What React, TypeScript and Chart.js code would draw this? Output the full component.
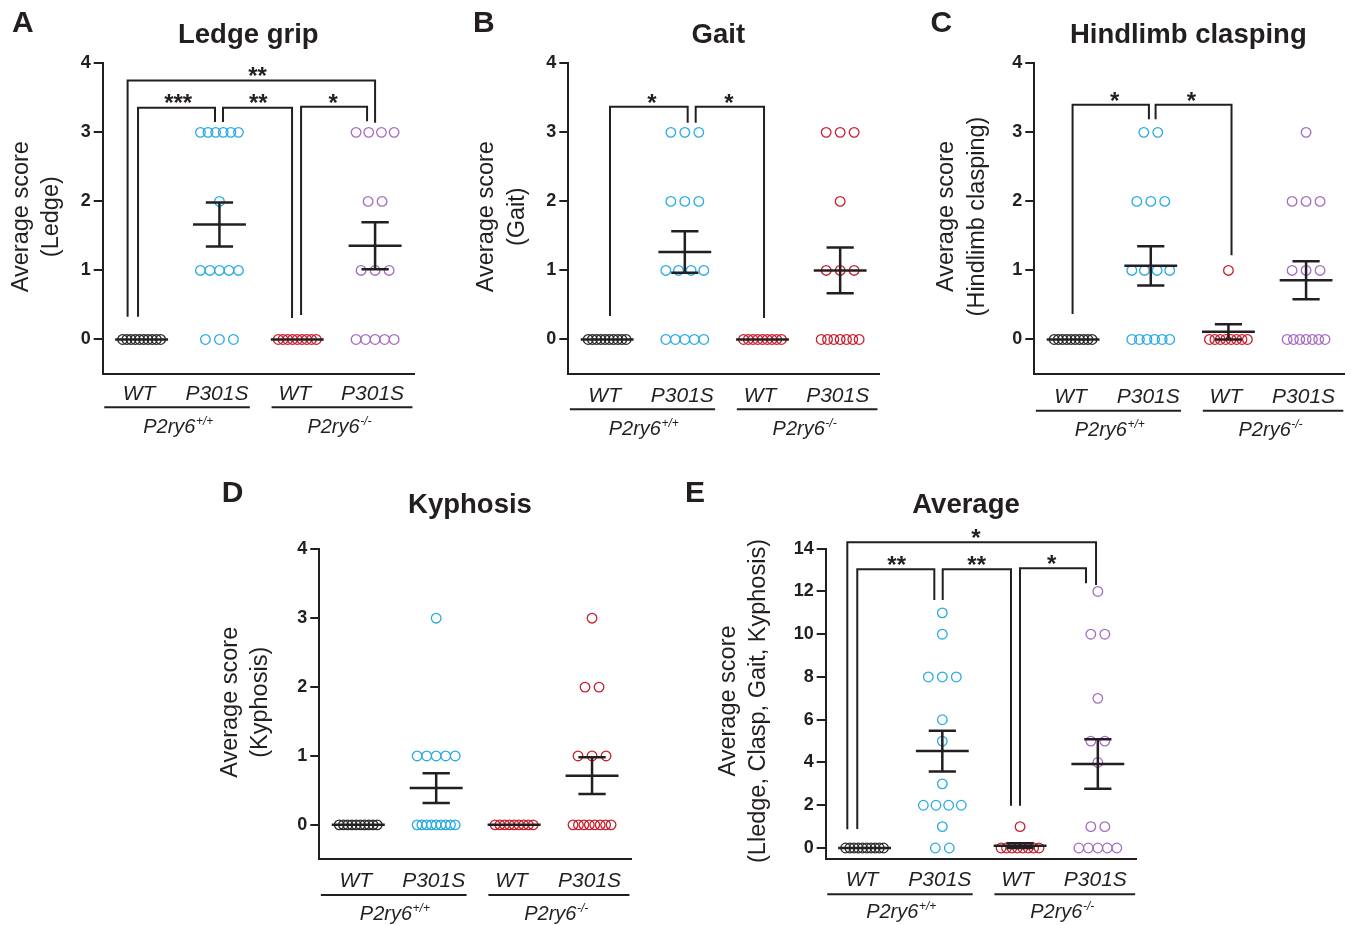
import React, { useEffect, useRef } from "react";
import { Chart, registerables } from "chart.js";

Chart.register(...registerables);

const FONT = '"Liberation Sans", Arial, Helvetica, sans-serif';
const INK = "#231F20";
const BLACK = "#2a2a2a";
const BLUE = "#29ABE2";
const RED = "#C8202F";
const PURPLE = "#A56CC1";

// ---------- labels ----------
const groupNames = ["WT", "P301S", "WT", "P301S"];
const genotypeBase = ["P2ry6", "P2ry6"];
const genotypeSup = ["+/+", "-/-"];
const scoreTicks = [0, 1, 2, 3, 4];
const averageTicks = [0, 2, 4, 6, 8, 10, 12, 14];

// ---------- A: Ledge grip ----------
const ledgeWT = [0, 0, 0, 0, 0, 0, 0, 0, 0, 0];
const ledgeP301S = [3, 3, 3, 3, 3, 3, 2, 1, 1, 1, 1, 1, 0, 0, 0];
const ledgeKO = [0, 0, 0, 0, 0, 0, 0, 0, 0];
const ledgeKOP301S = [3, 3, 3, 3, 2, 2, 1, 1, 1, 0, 0, 0, 0, 0];

// ---------- B: Gait ----------
const gaitWT = [0, 0, 0, 0, 0, 0, 0, 0, 0, 0];
const gaitP301S = [3, 3, 3, 2, 2, 2, 1, 1, 1, 1, 0, 0, 0, 0, 0];
const gaitKO = [0, 0, 0, 0, 0, 0, 0, 0, 0];
const gaitKOP301S = [3, 3, 3, 2, 1, 1, 1, 0, 0, 0, 0, 0, 0, 0];

// ---------- C: Hindlimb clasping ----------
const claspWT = [0, 0, 0, 0, 0, 0, 0, 0, 0, 0];
const claspP301S = [3, 3, 2, 2, 2, 1, 1, 1, 1, 0, 0, 0, 0, 0, 0];
const claspKO = [1, 0, 0, 0, 0, 0, 0, 0, 0];
const claspKOP301S = [3, 2, 2, 2, 1, 1, 1, 0, 0, 0, 0, 0, 0, 0];

// ---------- D: Kyphosis ----------
const kyphWT = [0, 0, 0, 0, 0, 0, 0, 0, 0, 0];
const kyphP301S = [3, 1, 1, 1, 1, 1, 0, 0, 0, 0, 0, 0, 0, 0, 0];
const kyphKO = [0, 0, 0, 0, 0, 0, 0, 0, 0];
const kyphKOP301S = [3, 2, 2, 1, 1, 1, 0, 0, 0, 0, 0, 0, 0, 0];

// ---------- E: Average (sum of scores) ----------
const avgWT = [0, 0, 0, 0, 0, 0, 0, 0, 0, 0];
const avgP301S = [11, 10, 8, 8, 8, 6, 5, 3, 2, 2, 2, 2, 1, 0, 0];
const avgKO = [1, 0, 0, 0, 0, 0, 0, 0, 0];
const avgKOP301S = [12, 10, 10, 7, 5, 5, 4, 1, 1, 0, 0, 0, 0, 0];

// ---------- significance brackets (data units) ----------
// [from, to, top, leftEnd, rightEnd, label, labelX]
type Bracket = [number, number, number, number, number, string, number];
const ledgeBrackets: Bracket[] = [
  [0.82, 4.0, 3.75, 0.33, 3.14, "**", 2.49],
  [0.954, 1.943, 3.357, 0.33, 3.15, "***", 1.47],
  [2.046, 2.933, 3.357, 3.15, 0.31, "**", 2.5],
  [3.049, 3.897, 3.37, 0.355, 3.16, "*", 3.46],
];
const gaitBrackets: Bracket[] = [
  [1.037, 2.037, 3.37, 0.34, 3.14, "*", 1.577],
  [2.14, 3.02, 3.37, 3.14, 0.31, "*", 2.568],
];
const claspBrackets: Bracket[] = [
  [0.993, 1.976, 3.4, 0.37, 3.19, "*", 1.536],
  [2.062, 3.04, 3.4, 3.19, 1.22, "*", 2.524],
];
const kyphBrackets: Bracket[] = [];
const avgBrackets: Bracket[] = [
  [0.778, 3.977, 14.3, 0.875, 12.3, "*", 2.433],
  [0.906, 1.897, 13.04, 0.89, 11.6, "**", 1.413],
  [2.005, 2.883, 13.04, 11.6, 1.98, "**", 2.442],
  [2.999, 3.848, 13.08, 1.98, 12.38, "*", 3.407],
];

// ---------- helpers ----------
const mean = (a: number[]) => a.reduce((s, v) => s + v, 0) / a.length;
const sem = (a: number[]) => {
  const m = mean(a);
  const v = a.reduce((s, x) => s + (x - m) * (x - m), 0) / (a.length - 1);
  return Math.sqrt(v / a.length);
};

const UNIT_PX = 77.8;
function spreadPoints(values: number[], groupX: number) {
  const rows = new Map<number, number>();
  values.forEach((v) => rows.set(v, (rows.get(v) || 0) + 1));
  const seen = new Map<number, number>();
  return values.map((v) => {
    const n = rows.get(v) as number;
    const i = seen.get(v) || 0;
    seen.set(v, i + 1);
    const stepPx = n > 1 ? Math.min(14, 38 / (n - 1)) : 0;
    return { x: groupX + ((i - (n - 1) / 2) * stepPx) / UNIT_PX, y: v };
  });
}

type Box = { left: number; top: number; width: number; height: number };
type Area = { left: number; top: number; right: number; bottom: number };
type PanelCfg = {
  letter: string;
  title: string;
  yTitle: [string, string];
  groups: number[][];
  colors: string[];
  brackets: Bracket[];
  yMin: number;
  yMax: number;
  ticks: number[];
  box: Box;
  area: Area;
  letterPos: [number, number];
  titlePos: [number, number];
  yTitlePos: [number, number, number];
  rows: [number, number, number];
};

const panels: PanelCfg[] = [
  {
    letter: "A",
    title: "Ledge grip",
    yTitle: ["Average score", "(Ledge)"],
    groups: [ledgeWT, ledgeP301S, ledgeKO, ledgeKOP301S],
    colors: [BLACK, BLUE, RED, PURPLE],
    brackets: ledgeBrackets,
    yMin: -0.5,
    yMax: 4,
    ticks: scoreTicks,
    box: { left: 0, top: 0, width: 460, height: 460 },
    area: { left: 102.7, top: 63.3, right: 414, bottom: 374 },
    letterPos: [12, 32.3],
    titlePos: [248.3, 43.3],
    yTitlePos: [21.7, 51.7, 216.7],
    rows: [26, 33.3, 59],
  },
  {
    letter: "B",
    title: "Gait",
    yTitle: ["Average score", "(Gait)"],
    groups: [gaitWT, gaitP301S, gaitKO, gaitKOP301S],
    colors: [BLACK, BLUE, RED, RED],
    brackets: gaitBrackets,
    yMin: -0.5,
    yMax: 4,
    ticks: scoreTicks,
    box: { left: 460, top: 0, width: 460, height: 460 },
    area: { left: 568.3, top: 63.3, right: 879, bottom: 374 },
    letterPos: [473, 32],
    titlePos: [718.3, 43],
    yTitlePos: [486.7, 517.3, 216.7],
    rows: [27.7, 35.3, 61],
  },
  {
    letter: "C",
    title: "Hindlimb clasping",
    yTitle: ["Average score", "(Hindlimb clasping)"],
    groups: [claspWT, claspP301S, claspKO, claspKOP301S],
    colors: [BLACK, BLUE, RED, PURPLE],
    brackets: claspBrackets,
    yMin: -0.5,
    yMax: 4,
    ticks: scoreTicks,
    box: { left: 920, top: 0, width: 431, height: 460 },
    area: { left: 1034.3, top: 63.3, right: 1346, bottom: 374 },
    letterPos: [930.5, 32],
    titlePos: [1188.3, 43],
    yTitlePos: [946.7, 977.3, 216.5],
    rows: [28.7, 36.7, 62],
  },
  {
    letter: "D",
    title: "Kyphosis",
    yTitle: ["Average score", "(Kyphosis)"],
    groups: [kyphWT, kyphP301S, kyphKO, kyphKOP301S],
    colors: [BLACK, BLUE, RED, RED],
    brackets: kyphBrackets,
    yMin: -0.5,
    yMax: 4,
    ticks: scoreTicks,
    box: { left: 190, top: 465, width: 460, height: 460 },
    area: { left: 319.3, top: 549.3, right: 631, bottom: 859.3 },
    letterPos: [221.7, 502.3],
    titlePos: [470, 512.7],
    yTitlePos: [230.7, 260.7, 702.3],
    rows: [27.4, 35.7, 60.7],
  },
  {
    letter: "E",
    title: "Average",
    yTitle: ["Average score", "(Lledge, Clasp, Gait, Kyphosis)"],
    groups: [avgWT, avgP301S, avgKO, avgKOP301S],
    colors: [BLACK, BLUE, RED, PURPLE],
    brackets: avgBrackets,
    yMin: -0.5,
    yMax: 14,
    ticks: averageTicks,
    box: { left: 670, top: 465, width: 480, height: 460 },
    area: { left: 825.7, top: 548.7, right: 1136.7, bottom: 858.7 },
    letterPos: [685, 502],
    titlePos: [966, 512.7],
    yTitlePos: [728.3, 759, 701],
    rows: [27, 35.6, 59.6],
  },
];

const Y_AXIS_W = 44;

function makeOverlay(p: PanelCfg) {
  const ox = p.box.left;
  const oy = p.box.top;
  return {
    id: "overlay" + p.letter,
    afterDatasetsDraw(chart: any) {
      const { ctx } = chart;
      const xs = chart.scales.x;
      const ys = chart.scales.y;
      const xp = (v: number) => xs.getPixelForValue(v);
      const yp = (v: number) => ys.getPixelForValue(v);
      ctx.save();
      ctx.strokeStyle = INK;
      ctx.fillStyle = INK;
      ctx.lineCap = "butt";
      // mean +/- SEM
      p.groups.forEach((vals, gi) => {
        const g = gi + 1;
        const m = mean(vals);
        const s = sem(vals);
        ctx.lineWidth = 2.5;
        ctx.beginPath();
        ctx.moveTo(xp(g - 0.34), yp(m));
        ctx.lineTo(xp(g + 0.34), yp(m));
        ctx.stroke();
        if (s > 0) {
          ctx.beginPath();
          ctx.moveTo(xp(g), yp(m - s));
          ctx.lineTo(xp(g), yp(m + s));
          ctx.moveTo(xp(g - 0.175), yp(m + s));
          ctx.lineTo(xp(g + 0.175), yp(m + s));
          ctx.moveTo(xp(g - 0.175), yp(m - s));
          ctx.lineTo(xp(g + 0.175), yp(m - s));
          ctx.stroke();
        }
      });
      // brackets
      ctx.lineWidth = 2;
      ctx.lineJoin = "miter";
      p.brackets.forEach(([from, to, top, le, re, label, lx]) => {
        ctx.beginPath();
        ctx.moveTo(xp(from), yp(le));
        ctx.lineTo(xp(from), yp(top));
        ctx.lineTo(xp(to), yp(top));
        ctx.lineTo(xp(to), yp(re));
        ctx.stroke();
        ctx.font = `bold 24px ${FONT}`;
        ctx.textAlign = "center";
        ctx.textBaseline = "alphabetic";
        ctx.fillText(label, xp(lx), yp(top) - 10 + 0.575 * 24);
      });
      ctx.restore();
    },
    afterDraw(chart: any) {
      const { ctx } = chart;
      const xs = chart.scales.x;
      const xp = (v: number) => xs.getPixelForValue(v);
      const bottom = p.area.bottom - oy;
      ctx.save();
      ctx.fillStyle = INK;
      ctx.strokeStyle = INK;
      // panel letter
      ctx.font = `bold 30px ${FONT}`;
      ctx.textAlign = "left";
      ctx.textBaseline = "alphabetic";
      ctx.fillText(p.letter, p.letterPos[0] - ox, p.letterPos[1] - oy);
      // title
      ctx.font = `bold 27.5px ${FONT}`;
      ctx.textAlign = "center";
      ctx.fillText(p.title, p.titlePos[0] - ox, p.titlePos[1] - oy);
      // y titles
      ctx.font = `23.5px ${FONT}`;
      ctx.textBaseline = "middle";
      [0, 1].forEach((k) => {
        ctx.save();
        ctx.translate(p.yTitlePos[k] - ox, p.yTitlePos[2] - oy);
        ctx.rotate(-Math.PI / 2);
        ctx.fillText(p.yTitle[k], 0, 0);
        ctx.restore();
      });
      // group names
      ctx.textBaseline = "alphabetic";
      ctx.font = `italic 21px ${FONT}`;
      groupNames.forEach((n, gi) => {
        ctx.fillText(n, xp(gi + 1) - 2.5, bottom + p.rows[0]);
      });
      // underlines
      ctx.lineWidth = 2;
      [
        [0.52, 2.39],
        [2.67, 4.48],
      ].forEach(([a, b]) => {
        ctx.beginPath();
        ctx.moveTo(xp(a), bottom + p.rows[1]);
        ctx.lineTo(xp(b), bottom + p.rows[1]);
        ctx.stroke();
      });
      // genotype labels
      ctx.textAlign = "left";
      [1.02, 3.13].forEach((sx, k) => {
        const x0 = xp(sx);
        const yb = bottom + p.rows[2];
        ctx.font = `italic 20px ${FONT}`;
        ctx.fillText(genotypeBase[k], x0, yb);
        const w = ctx.measureText(genotypeBase[k]).width;
        ctx.font = `italic 12px ${FONT}`;
        ctx.fillText(genotypeSup[k], x0 + w + 0.5, yb - 8);
      });
      ctx.restore();
    },
  };
}

function Panel({ cfg }: { cfg: PanelCfg }) {
  const ref = useRef<HTMLCanvasElement>(null);
  useEffect(() => {
    const canvas = ref.current as HTMLCanvasElement;
    const { box, area } = cfg;
    const padding = {
      left: area.left - box.left - Y_AXIS_W,
      top: area.top - box.top,
      right: box.left + box.width - area.right,
      bottom: box.top + box.height - area.bottom,
    };
    const chart = new Chart(canvas, {
      type: "scatter",
      data: {
        datasets: cfg.groups.map((vals, gi) => ({
          data: spreadPoints(vals, gi + 1),
          pointBorderColor: cfg.colors[gi],
          pointBackgroundColor: "rgba(255,255,255,0)",
          pointRadius: 4.8,
          pointHoverRadius: 4.8,
          pointBorderWidth: 1.3,
          pointStyle: "circle",
        })),
      },
      options: {
        animation: false,
        responsive: false,
        maintainAspectRatio: false,
        devicePixelRatio: 1,
        events: [],
        layout: { padding },
        plugins: {
          legend: { display: false },
          tooltip: { enabled: false },
          title: { display: false },
        },
        scales: {
          x: {
            type: "linear",
            min: 0.5,
            max: 4.5,
            ticks: { display: false },
            grid: { display: false, drawTicks: false },
            border: { display: true, color: INK, width: 2 },
            afterFit: (s: any) => {
              s.height = 0;
            },
          },
          y: {
            type: "linear",
            min: cfg.yMin,
            max: cfg.yMax,
            afterBuildTicks: (s: any) => {
              s.ticks = cfg.ticks.map((v) => ({ value: v }));
            },
            ticks: {
              color: INK,
              padding: 3,
              font: { family: FONT, size: 18, weight: "bold" },
            },
            grid: {
              display: true,
              drawOnChartArea: false,
              drawTicks: true,
              tickLength: 9,
              color: INK,
              lineWidth: 2,
            },
            border: { display: true, color: INK, width: 2 },
            afterFit: (s: any) => {
              s.width = Y_AXIS_W;
            },
          },
        },
      } as any,
      plugins: [makeOverlay(cfg)],
    });
    return () => chart.destroy();
  }, [cfg]);
  return (
    <canvas
      ref={ref}
      width={cfg.box.width}
      height={cfg.box.height}
      style={{
        position: "absolute",
        left: cfg.box.left,
        top: cfg.box.top,
        width: cfg.box.width,
        height: cfg.box.height,
      }}
    />
  );
}

export default function App() {
  return (
    <div
      style={{
        position: "absolute",
        left: 0,
        top: 0,
        width: 1351,
        height: 925,
        background: "#ffffff",
        overflow: "hidden",
      }}
    >
      {panels.map((p) => (
        <Panel key={p.letter} cfg={p} />
      ))}
    </div>
  );
}
